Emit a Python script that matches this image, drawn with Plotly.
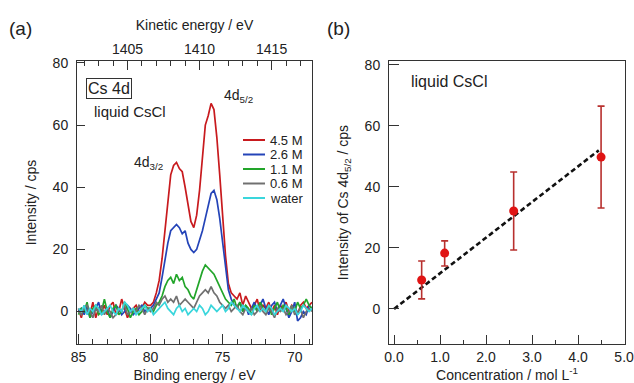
import plotly.graph_objects as go

# ---------------- data ----------------
HV = 1486.6  # photon energy (eV): kinetic = HV - binding

binding_energy = [
    85.0, 84.8, 84.6, 84.4, 84.2, 84.0, 83.8, 83.6, 83.4, 83.2,
    83.0, 82.8, 82.6, 82.4, 82.2, 82.0, 81.8, 81.6, 81.4, 81.2,
    81.0, 80.8, 80.6, 80.4, 80.2, 80.0, 79.8, 79.6, 79.4, 79.2,
    79.0, 78.8, 78.6, 78.4, 78.2, 78.0, 77.8, 77.6, 77.4, 77.2,
    77.0, 76.8, 76.6, 76.4, 76.2, 76.0, 75.8, 75.6, 75.4, 75.2,
    75.0, 74.8, 74.6, 74.4, 74.2, 74.0, 73.8, 73.6, 73.4, 73.2,
    73.0, 72.8, 72.6, 72.4, 72.2, 72.0, 71.8, 71.6, 71.4, 71.2,
    71.0, 70.8, 70.6, 70.4, 70.2, 70.0, 69.8, 69.6, 69.4, 69.2,
    69.0, 68.8,
]

int_45M = [
    1, -2, 2, 0, -1, 3, -2, 1, 0, 2,
    -1, 2, 3, -1, 0, 4, 1, -2, 0, 1,
    2, 0, 1, 3, 2, 2, 3, 6, 10, 17,
    26, 35, 44, 47, 48, 46, 45, 40, 34, 29,
    27, 31, 39, 50, 60, 63, 67, 65, 56, 44,
    31, 18, 9, 6, 5, 4, 6, 2, 5, 3,
    1, 2, 4, 0, 2, 1, 3, 0, 2, -1,
    2, 1, 3, 0, 2, 1, -1, 2, 3, 1,
    2, 3,
]
int_26M = [
    0, 1, -1, 2, -2, 0, 1, 3, -1, 0,
    1, -2, 0, 2, 1, -1, 0, 2, 1, -1,
    0, 1, 2, 0, 1, 1, 2, 4, 6, 11,
    17, 22, 26, 27, 28, 27, 25, 26, 22, 20,
    19, 20, 23, 26, 30, 34, 38, 39, 36, 30,
    22, 14, 7, 4, 2, 1, 3, 0, 2, -1,
    1, 3, 0, 2, 4, 1, -1, 2, 3, 0,
    2, 4, 1, -2, 0, 3, -3, -2, 0, -1,
    2, 1,
]
int_11M = [
    -1, 1, 0, 3, -2, 1, 2, -1, 0, 4,
    0, -2, 1, 2, -1, 0, 3, 1, -2, 0,
    1, -1, 0, 2, 1, 1, 0, 2, 3, 5,
    8, 10, 11, 9, 12, 10, 11, 8, 7, 5,
    4, 7, 10, 13, 15, 14, 13, 12, 10, 8,
    6, 4, 3, 2, 4, 1, 3, 0, 2, 1,
    -1, 2, 0, 3, 1, 0, 2, -1, 1, 3,
    0, 2, 1, -1, 2, 0, 3, 1, 2, 4,
    2, 1,
]
int_06M = [
    0, -1, 1, 2, 0, -2, 1, 0, 2, -1,
    1, 0, -2, -1, 1, 0, 2, -1, 0, 1,
    0, 2, 1, -1, 1, 0, 1, 3, 2, 4,
    5, 3, 4, 3, 5, 2, 3, 4, 3, 2,
    1, 3, 5, 6, 7, 6, 8, 6, 5, 3,
    2, 1, 2, 0, 1, 2, 0, -1, 1, 0,
    1, -1, 0, 2, 0, -1, 1, 0, -2, 1,
    0, 1, -1, 0, 2, -1, 0, 1, -2, 0,
    1, 0,
]
int_water = [
    1, 0, 2, -1, 1, 0, 2, 1, -1, 0,
    1, 2, 0, -1, 1, 0, 3, 2, 0, 1,
    -1, 0, 1, 2, 0, 1, -1, 0, 1, 2,
    3, 1, 0, -1, 1, 2, 0, 1, -1, 0,
    1, 0, 2, 1, -1, 0, 2, 1, 0, 1,
    2, 0, 1, 3, 2, 1, 0, 2, 1, 0,
    -1, 1, 2, 0, 1, 0, 2, 1, -1, 0,
    1, 0, 2, 1, 0, 1, -1, 0, 2, 1,
    0, 1,
]

series_names = ["4.5 M", "2.6 M", "1.1 M", "0.6 M", "water"]
series_values = [int_45M, int_26M, int_11M, int_06M, int_water]
series_colors = ["#c81a1e", "#2444b8", "#22a52a", "#707070", "#3ad6dc"]

# panel (b)
concentration = [0.6, 1.1, 2.6, 4.5]
intensity_52 = [9.5, 18.3, 32.1, 49.8]
err_plus = [6.2, 4.0, 12.8, 16.7]
err_minus = [6.2, 4.2, 12.8, 16.7]
fit_x = [0.0, 4.45]
fit_y = [0.0, 52.0]

FONT = "Arial, Liberation Sans, sans-serif"
TXT = "#222222"
AX = "#333333"
W, H = 634, 383

def px(x):
    return x / W

def py(y):
    return 1 - y / H

fig = go.Figure()

for name, vals, col in zip(series_names, series_values, series_colors):
    fig.add_trace(go.Scatter(x=binding_energy, y=vals, mode="lines", name=name,
                             line=dict(color=col, width=1.7), showlegend=False,
                             xaxis="x", yaxis="y"))

# invisible trace for top kinetic-energy axis
fig.add_trace(go.Scatter(x=[HV - b for b in binding_energy[:2]], y=[None, None],
                         mode="lines", showlegend=False, hoverinfo="skip",
                         xaxis="x3", yaxis="y"))

fig.add_trace(go.Scatter(x=fit_x, y=fit_y, mode="lines", showlegend=False,
                         line=dict(color="#111111", width=2.6, dash="5px,3px"),
                         xaxis="x2", yaxis="y2"))
fig.add_trace(go.Scatter(x=concentration, y=intensity_52, mode="markers", showlegend=False,
                         marker=dict(color="#e01414", size=9),
                         error_y=dict(type="data", symmetric=False, array=err_plus,
                                      arrayminus=err_minus, color="#b8302e",
                                      thickness=1.6, width=3.5),
                         xaxis="x2", yaxis="y2"))

tickfont = dict(family=FONT, size=14, color=TXT)
titlefont = dict(family=FONT, size=14, color=TXT)

dom_a = [px(77), px(312)]
dom_b = [px(389), px(625)]
dom_y = [py(344), py(61)]

be_lo, be_hi = 85.1, 68.8

fig.update_layout(
    width=W, height=H,
    margin=dict(l=0, r=0, t=0, b=0, autoexpand=False),
    paper_bgcolor="white", plot_bgcolor="white",
    font=dict(family=FONT, color=TXT),
    xaxis=dict(domain=dom_a, anchor="y", range=[be_lo, be_hi], automargin=False,
               showline=True, linecolor=AX, linewidth=1, mirror=False,
               showgrid=False, zeroline=False, ticklabeloverflow="allow",
               ticks="inside", ticklen=10, tickcolor=AX, dtick=5, tick0=0,
               minor=dict(ticks="inside", ticklen=5, dtick=1, tickcolor=AX, showgrid=False),
               tickfont=tickfont,
               title=dict(text="Binding energy / eV", font=titlefont, standoff=8)),
    xaxis3=dict(overlaying="x", anchor="y", side="top", automargin=False,
                range=[HV - be_lo, HV - be_hi], ticklabeloverflow="allow",
                showline=True, linecolor=AX, linewidth=1,
                showgrid=False, zeroline=False,
                ticks="inside", ticklen=9, tickcolor=AX, dtick=5, tick0=0,
                minor=dict(ticks="inside", ticklen=5, dtick=1, tickcolor=AX, showgrid=False),
                tickfont=tickfont,
                title=dict(text="Kinetic energy / eV", font=titlefont, standoff=7)),
    yaxis=dict(domain=dom_y, anchor="x", range=[-10.45, 80.64], automargin=False,
               showline=True, linecolor=AX, linewidth=1, mirror=True,
               showgrid=False, zeroline=False, ticklabeloverflow="allow",
               ticks="inside", ticklen=8, tickcolor=AX, dtick=20, tick0=0,
               ticklabelstandoff=5,
               tickfont=tickfont,
               title=dict(text="Intensity / cps", font=titlefont, standoff=12)),
    xaxis2=dict(domain=dom_b, anchor="y2", range=[-0.11, 5.02], automargin=False,
                showline=True, linecolor=AX, linewidth=1, mirror=True,
                showgrid=False, zeroline=False, ticklabeloverflow="allow",
                ticks="inside", ticklen=9, tickcolor=AX, dtick=1, tick0=0,
                tickformat=".1f",
                minor=dict(ticks="inside", ticklen=4, dtick=0.5, tickcolor=AX, showgrid=False),
                tickfont=tickfont,
                title=dict(text="Concentration / mol L<sup>-1</sup>", font=titlefont, standoff=10)),
    yaxis2=dict(domain=dom_y, anchor="x2", range=[-11.5, 81.3], automargin=False,
                showline=True, linecolor=AX, linewidth=1, mirror=True,
                showgrid=False, zeroline=False, ticklabeloverflow="allow",
                ticks="inside", ticklen=10, tickcolor=AX, dtick=20, tick0=0,
                ticklabelstandoff=5,
                tickfont=tickfont,
                title=dict(text="Intensity of Cs 4d<sub>5/2</sub> / cps", font=titlefont, standoff=12)),
)

annotations = [
    dict(text="(a)", x=px(7), y=py(28), xanchor="left", yanchor="middle",
         font=dict(family=FONT, size=19, color=TXT)),
    dict(text="(b)", x=px(325), y=py(28), xanchor="left", yanchor="middle",
         font=dict(family=FONT, size=19, color=TXT)),
    dict(text="Cs 4d", x=px(109), y=py(88), xanchor="center", yanchor="middle",
         font=dict(family=FONT, size=16, color=TXT),
         bordercolor=AX, borderwidth=1, borderpad=1),
    dict(text="liquid CsCl", x=px(92), y=py(111), xanchor="left", yanchor="middle",
         font=dict(family=FONT, size=15, color=TXT)),
    dict(text="4d<sub>5/2</sub>", x=px(222), y=py(96), xanchor="left", yanchor="middle",
         font=dict(family=FONT, size=14, color=TXT)),
    dict(text="4d<sub>3/2</sub>", x=px(132), y=py(163), xanchor="left", yanchor="middle",
         font=dict(family=FONT, size=14, color=TXT)),
    dict(text="liquid CsCl", x=px(409), y=py(82), xanchor="left", yanchor="middle",
         font=dict(family=FONT, size=16, color=TXT)),
]

shapes = []
legend_rows = [140, 154.5, 169, 183.5, 198]
for name, col, yy in zip(series_names, series_colors, legend_rows):
    shapes.append(dict(type="line", xref="paper", yref="paper",
                       x0=px(243), x1=px(265), y0=py(yy), y1=py(yy),
                       line=dict(color=col, width=2)))
    annotations.append(dict(text=name, x=px(268), y=py(yy), xanchor="left", yanchor="middle",
                            font=dict(family=FONT, size=13, color=TXT)))

for a in annotations:
    a.update(xref="paper", yref="paper", showarrow=False)

fig.update_layout(annotations=annotations, shapes=shapes)

fig.write_html("out.html", config={"displayModeBar": False},
               post_script="document.body.style.margin='0px';document.body.style.padding='0px';")
